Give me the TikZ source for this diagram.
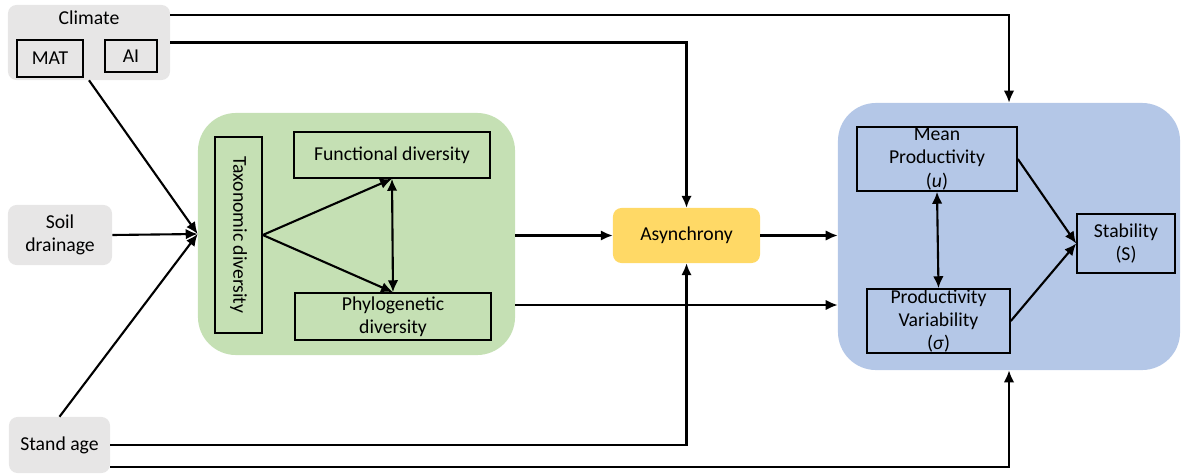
\documentclass[tikz,border=0pt]{standalone}
\usepackage{fontspec}
\setmainfont{Carlito}
\usetikzlibrary{arrows.meta,positioning,calc}
\definecolor{greybox}{HTML}{E7E6E6}
\definecolor{greenbox}{HTML}{C5E0B4}
\definecolor{yellowbox}{HTML}{FFD966}
\definecolor{bluebox}{HTML}{B4C7E7}

\begin{document}
\begin{tikzpicture}[x=0.025cm, y=-0.025cm, >={Latex[length=8.5pt,width=7.5pt]},
  font=\fontsize{14}{16.5}\selectfont,
  link/.style={->, line width=1.5pt},
  both/.style={<->, line width=1.5pt},
  var/.style={draw, line width=1.1pt, align=center, inner sep=0pt},
  factor/.style={fill=greybox, rounded corners=6pt, align=center},
  group/.style={rounded corners=0.95cm}]
\useasboundingbox (0,0) rectangle (1181,473);

\node[factor, minimum width=4.05cm, minimum height=1.875cm] (climate) at (89,42.5) {};
\node[below=1pt of climate.north] (climtxt) {Climate};
\node[var, minimum width=1.65cm, minimum height=0.925cm] (mat) at (50,58.5) {MAT};
\node[var, minimum width=1.3cm, minimum height=0.8cm] (ai) at (131,56) {AI};
\node[factor, minimum width=2.6cm, minimum height=1.5cm] (soil) at (60,235) {Soil\\drainage};
\node[factor, minimum width=2.525cm, minimum height=1.4cm] (stand) at (59.5,445) {Stand age};

\node[group, fill=greenbox, minimum width=7.925cm, minimum height=6.05cm] (green) at (356.5,234) {};
\node[var, rotate=-90, minimum width=4.9cm, minimum height=1.175cm] (tax) at (238.5,235) {Taxonomic diversity};
\node[var, minimum width=4.9cm, minimum height=1.15cm] (func) at (392,155) {Functional diversity};
\node[var, minimum width=4.9cm, minimum height=1.175cm] (phylo) at (393,316.5) {Phylogenetic\\diversity};

\node[fill=yellowbox, rounded corners=6pt, minimum width=3.675cm, minimum height=1.375cm] (async) at (686.5,235.5) {Asynchrony};

\node[group, fill=bluebox, minimum width=8.55cm, minimum height=6.675cm] (blue) at (1009,236.5) {};
\node[var, minimum width=4cm, minimum height=1.6cm] (mean) at (937,159) {Mean\\Productivity\\(\textit{u})};
\node[var, minimum width=3.575cm, minimum height=1.6cm] (varia) at (938.5,321) {Productivity\\Variability\\(\textit{σ})};
\node[var, minimum width=2.45cm, minimum height=1.475cm] (stab) at (1126,243.5) {Stability\\(S)};

\draw[link] (climate.south) -- (green.west);
\draw[link] (soil.east) -- (green.west);
\draw[link] (stand.north) -- (green.west);
\draw[link] ($(climate.north east)+(0,10)$) -| (blue.north);
\draw[link] (climate.east) -| (async.north);
\draw[link] (stand.east) -| (async.south);
\draw[link] ($(stand.south east)+(0,-6)$) -| (blue.south);

\draw[link] (tax.north) -- (func.south);
\draw[link] (tax.north) -- (phylo.north);
\draw[both] (func.south) -- (phylo.north);

\draw[link] (green.east |- async.west) -- (async.west);
\draw[link] (async.east) -- (blue.west |- async.east);
\draw[link] (green.east |- 0,305) -- (blue.west |- 0,305);

\draw[link] (mean.east) -- (stab.west);
\draw[link] (varia.east) -- (stab.west);
\draw[both] (mean.south) -- (varia.north);
\end{tikzpicture}
\end{document}
